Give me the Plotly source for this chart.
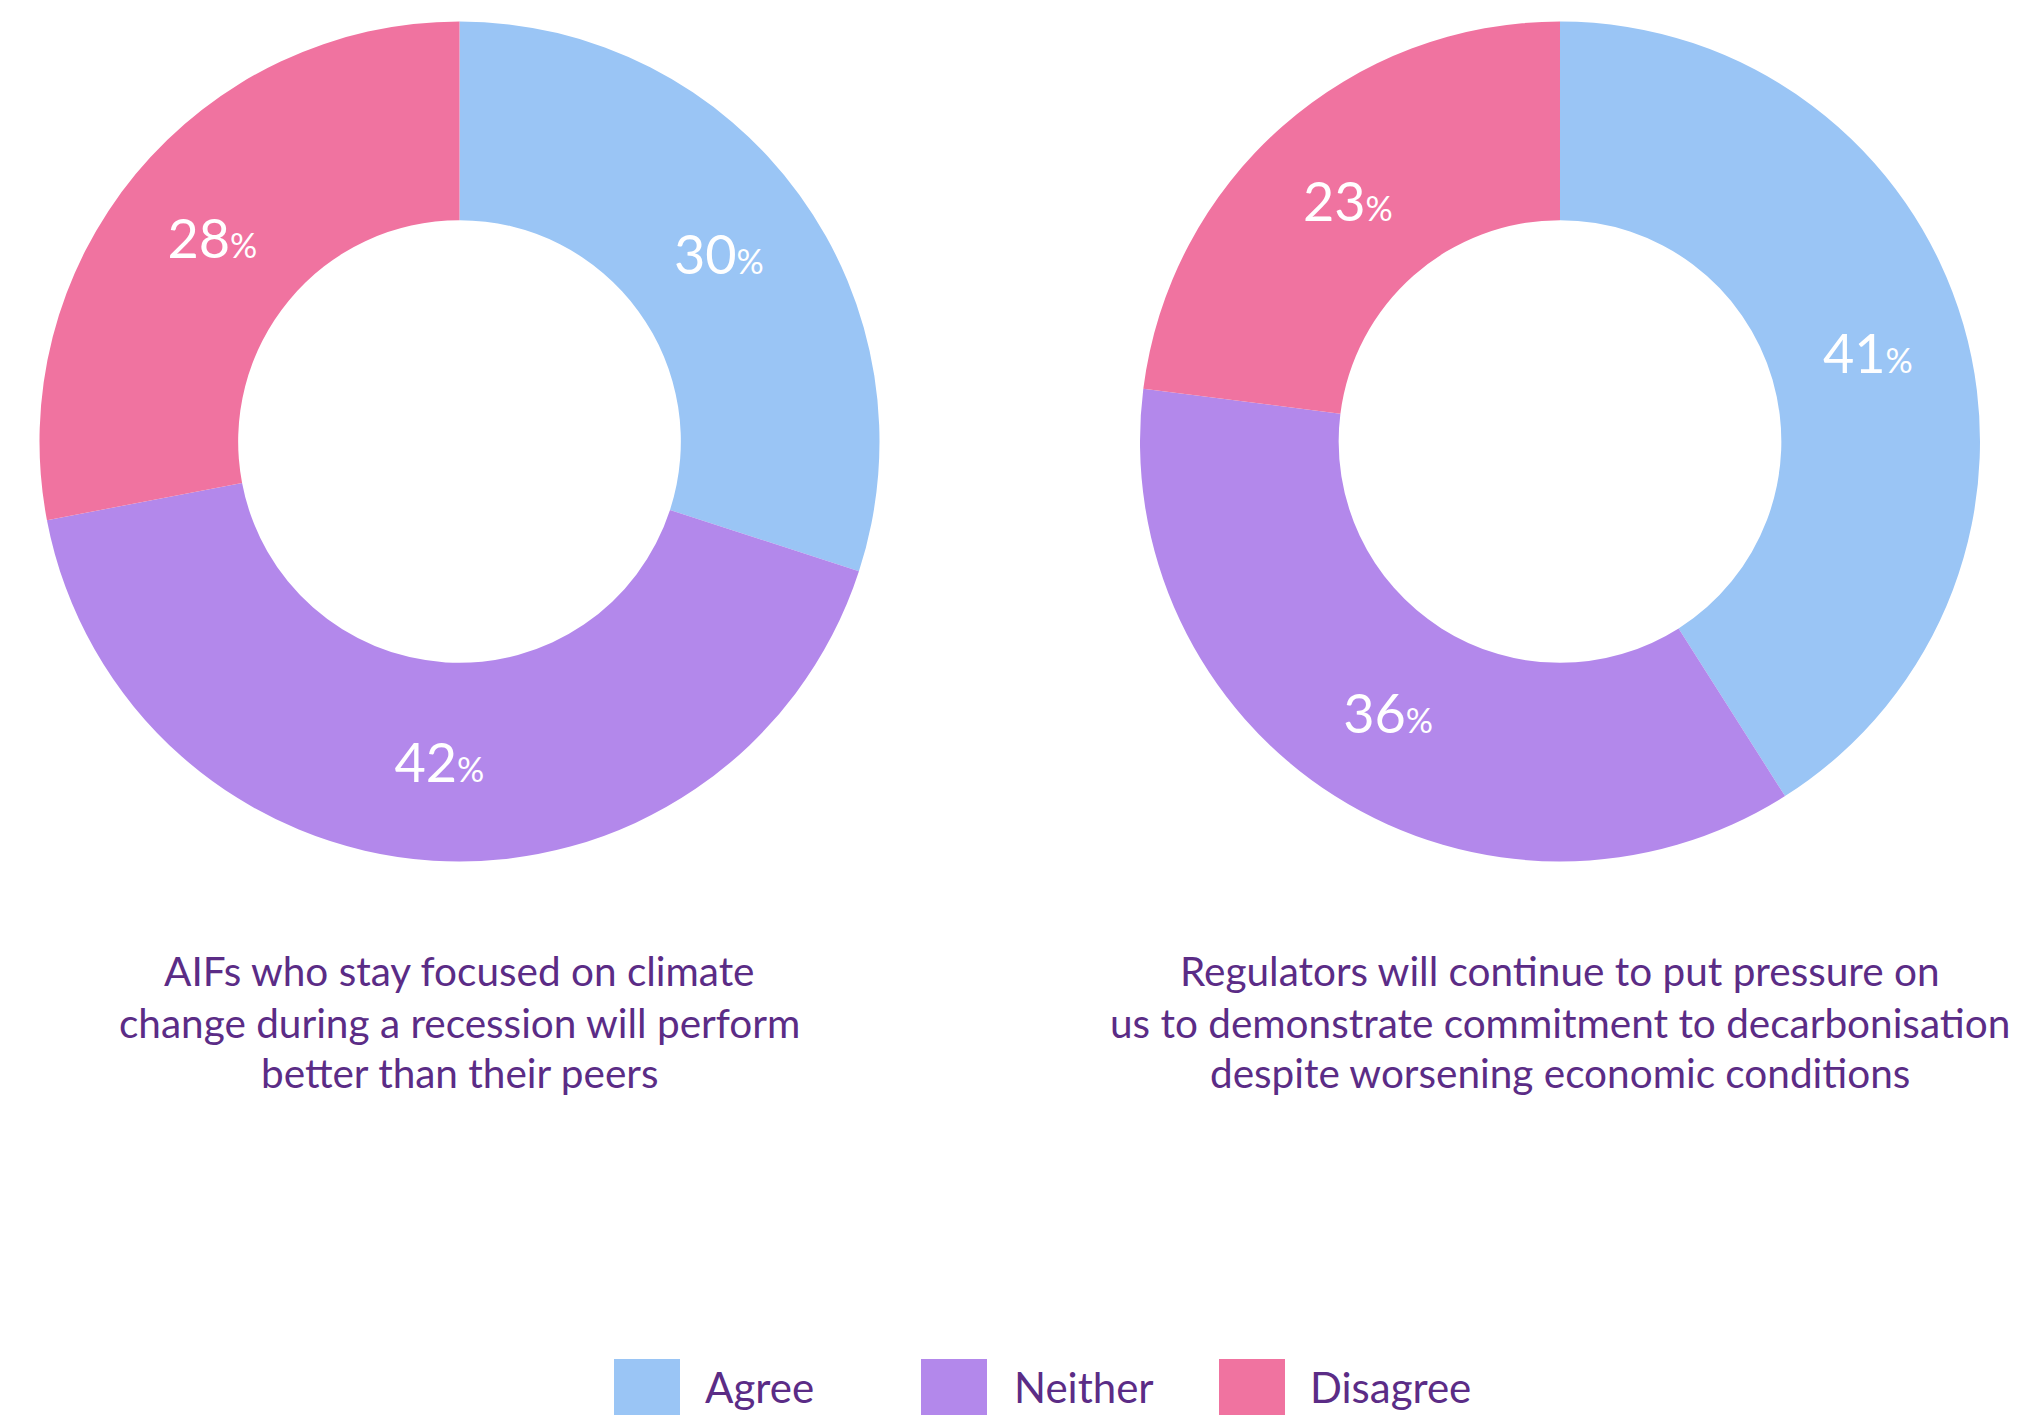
import plotly.graph_objects as go

W, H = 2018, 1415

categories = ["Agree", "Neither", "Disagree"]
colors = ["#9AC5F5", "#B388EB", "#F073A0"]

left_values = [30, 42, 28]
right_values = [41, 36, 23]

left_caption = [
    "AIFs who stay focused on climate",
    "change during a recession will perform",
    "better than their peers",
]
right_caption = [
    "Regulators will continue to put pressure on",
    "us to demonstrate commitment to decarbonisation",
    "despite worsening economic conditions",
]

PURPLE = "#5B2C86"
FONT = "Lato"


def px_x(x):
    return x / W


def px_y(y):
    return 1 - y / H


def donut(values, x0, x1, y0, y1):
    return go.Pie(
        labels=categories,
        values=values,
        marker=dict(colors=colors, line=dict(width=0)),
        hole=0.527,
        sort=False,
        direction="clockwise",
        rotation=0,
        textposition="inside",
        insidetextorientation="horizontal",
        texttemplate="%{value}<span style='font-size:34px'>%</span>",
        textfont=dict(family=FONT, size=54, color="white"),
        hoverinfo="skip",
        showlegend=False,
        domain=dict(x=[px_x(x0), px_x(x1)], y=[px_y(y1), px_y(y0)]),
    )


fig = go.Figure()
fig.add_trace(donut(left_values, 39.5, 879.5, 21.5, 861.5))
fig.add_trace(donut(right_values, 1140, 1980, 21.5, 861.5))

annotations = []
line_y = [971, 1022, 1072]
for cx, lines in ((459.5, left_caption), (1560, right_caption)):
    for ly, txt in zip(line_y, lines):
        annotations.append(dict(
            x=px_x(cx), y=px_y(ly), xref="paper", yref="paper",
            text=txt, showarrow=False, xanchor="center", yanchor="middle",
            font=dict(family=FONT, size=40.5, color=PURPLE),
        ))

# Legend: colour swatches with labels along the bottom edge
legend_swatch_x = [614, 921, 1219]
legend_text_x = [703, 1012, 1308]
SWATCH_W = 66
shapes = []
for sx, tx, name, col in zip(legend_swatch_x, legend_text_x, categories, colors):
    shapes.append(dict(
        type="rect", xref="paper", yref="paper",
        x0=px_x(sx), x1=px_x(sx + SWATCH_W), y0=0, y1=px_y(1359),
        fillcolor=col, line=dict(width=0), layer="above",
    ))
    annotations.append(dict(
        x=px_x(tx), y=px_y(1387), xref="paper", yref="paper",
        text=name, showarrow=False, xanchor="left", yanchor="middle",
        font=dict(family=FONT, size=42, color=PURPLE),
    ))

fig.update_layout(
    width=W, height=H,
    margin=dict(l=0, r=0, t=0, b=0),
    paper_bgcolor="white", plot_bgcolor="white",
    annotations=annotations, shapes=shapes,
    showlegend=False,
)

fig.write_html("out.html")
